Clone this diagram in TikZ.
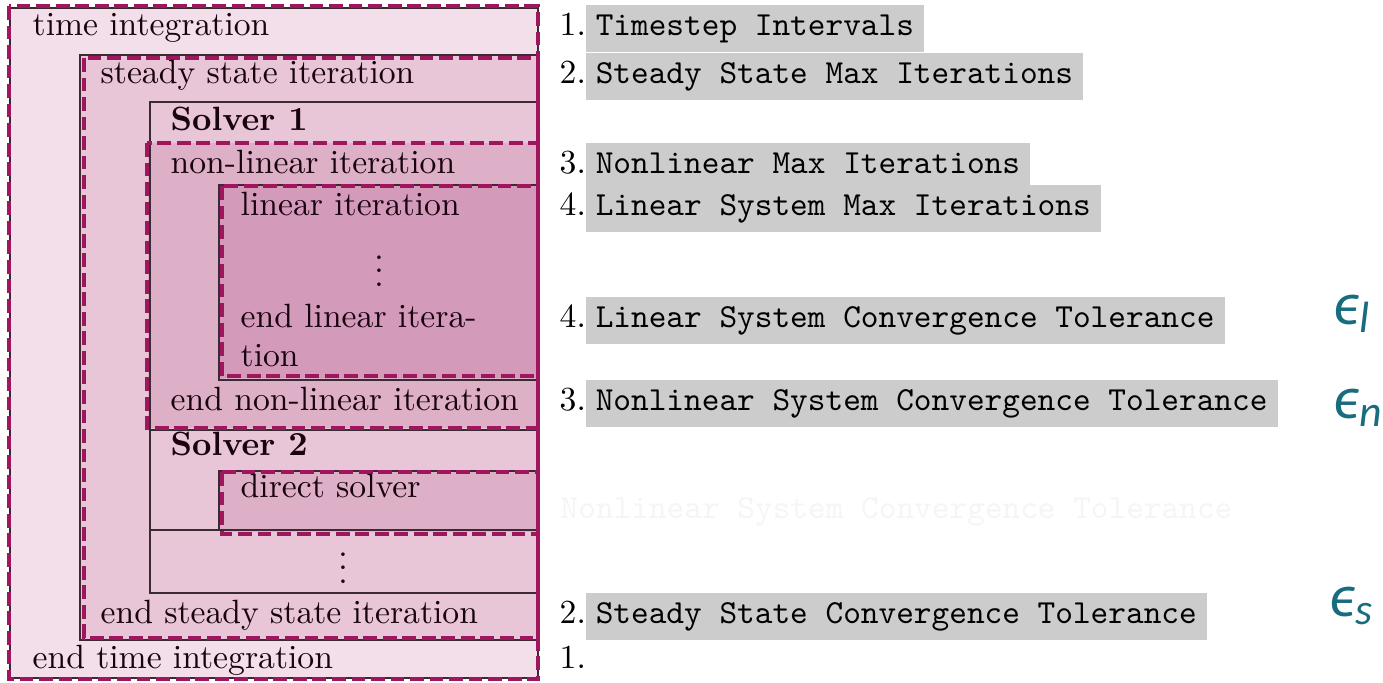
\documentclass[tikz,border=0pt]{standalone}
\usepackage{fontspec}
\newfontfamily\epsfont{Carlito}
\definecolor{plum}{HTML}{A0165E}
\definecolor{fillA}{HTML}{F2DFEA}
\definecolor{fillB}{HTML}{E8C5D7}
\definecolor{fillC}{HTML}{DEB0C8}
\definecolor{fillD}{HTML}{D49ABA}
\definecolor{edge}{HTML}{3A2A32}
\definecolor{tagbg}{HTML}{CCCCCC}
\definecolor{teal}{HTML}{176C7D}
\tikzset{
  frame/.style={draw=edge, line width=0.45pt},
  loopline/.style={draw=plum, line width=1.35pt, dash pattern=on 4.1pt off 1.7pt},
  lbl/.style={anchor=base west, inner sep=0pt, text=black!85!plum},
  head/.style={lbl, font=\bfseries},
  dots/.style={anchor=base, inner sep=0pt, text height=7pt, text depth=0pt, text=black!85!plum},
  num/.style={anchor=base west, inner sep=0pt},
  tag/.style={anchor=base west, fill=tagbg, font=\ttfamily, inner xsep=3pt,
              inner ysep=2.5pt, text height=6.4pt, text depth=2.6pt},
  ghost/.style={anchor=base west, inner sep=0pt, font=\ttfamily, text=black!4},
  eps/.style={anchor=base west, inner sep=0pt, text=teal, font=\epsfont\itshape\fontsize{18}{18}\selectfont}
}
\newcommand{\epsub}[1]{\raisebox{-2.6pt}{\fontsize{13}{13}\selectfont #1}}
\begin{document}
\begin{tikzpicture}[x=0.297pt, y=-0.297pt]
\useasboundingbox (0,0) rectangle (1383,682);

% nested loop regions
\fill[fillA] (10,8) rectangle (538,678);
\fill[fillB] (80,55) rectangle (538,640);
\fill[fillC] (148,143) rectangle (538,428);
\fill[fillD] (220,185) rectangle (538,378);
\fill[fillC] (220,471) rectangle (538,532);

% thin frames
\draw[frame] (10,8) rectangle (538,678);
\draw[frame] (80,55) rectangle (538,640);
\draw[frame] (150,102) rectangle (538,430);
\draw[frame] (150,430) rectangle (538,530);
\draw[frame] (150,530) rectangle (538,593);
\draw[frame] (219,185) rectangle (538,380);
\draw[frame] (219,471) rectangle (538,530);

% dashed loop borders
\draw[loopline] (9,6) rectangle (538,679);
\draw[loopline] (84,58) rectangle (538,638);
\draw[loopline] (147,143) rectangle (538,428);
\draw[loopline] (222,186) rectangle (538,376);
\draw[loopline] (222,472) rectangle (538,534);
% the stacked right-hand borders merge into one solid edge
\draw[draw=plum, line width=1.35pt] (538,56) -- (538,639);

% loop labels
\node[lbl]  (ti)  at (32,35)   {time integration};
\node[lbl]  (ss)  at (100,83)  {steady state iteration};
\node[head] (s1)  at (170,130) {Solver 1};
\node[lbl]  (nl)  at (170,173) {non-linear iteration};
\node[lbl]  (li)  at (240,215) {linear iteration};
\node[dots] (vd1) at (379,286) {$\vdots$};
\node[lbl]  (eli) at (240,327) {end linear itera-};
\node[lbl]  (elj) at (240,366) {tion};
\node[lbl]  (enl) at (170,410) {end non-linear iteration};
\node[head] (s2)  at (170,455) {Solver 2};
\node[lbl]  (ds)  at (240,497) {direct solver};
\node[dots] (vd2) at (343,583) {$\vdots$};
\node[lbl]  (ess) at (100,623) {end steady state iteration};
\node[lbl]  (eti) at (32,668)  {end time integration};

% parameter list
\node[num] (n1) at (559,35)  {1.};
\node[tag] (p1) at (585,35)  {Timestep Intervals};
\node[num] (n2) at (559,83)  {2.};
\node[tag] (p2) at (585,83)  {Steady State Max Iterations};
\node[num] (n3) at (559,173) {3.};
\node[tag] (p3) at (585,173) {Nonlinear Max Iterations};
\node[num] (n4) at (559,215) {4.};
\node[tag] (p4) at (585,215) {Linear System Max Iterations};
\node[num] (n5) at (559,327) {4.};
\node[tag] (p5) at (585,327) {Linear System Convergence Tolerance};
\node[num] (n6) at (559,410) {3.};
\node[tag] (p6) at (585,410) {Nonlinear System Convergence Tolerance};
\node[ghost] (gh) at (560,518) {Nonlinear System Convergence Tolerance};
\node[num] (n7) at (559,623) {2.};
\node[tag] (p7) at (585,623) {Steady State Convergence Tolerance};
\node[num] (n8) at (559,668) {1.};

% tolerance symbols
\node[eps] (el) at (1333,324) {ϵ\epsub{l}};
\node[eps] (en) at (1333,418) {ϵ\epsub{n}};
\node[eps] (es) at (1329,616) {ϵ\epsub{s}};
\end{tikzpicture}
\end{document}
